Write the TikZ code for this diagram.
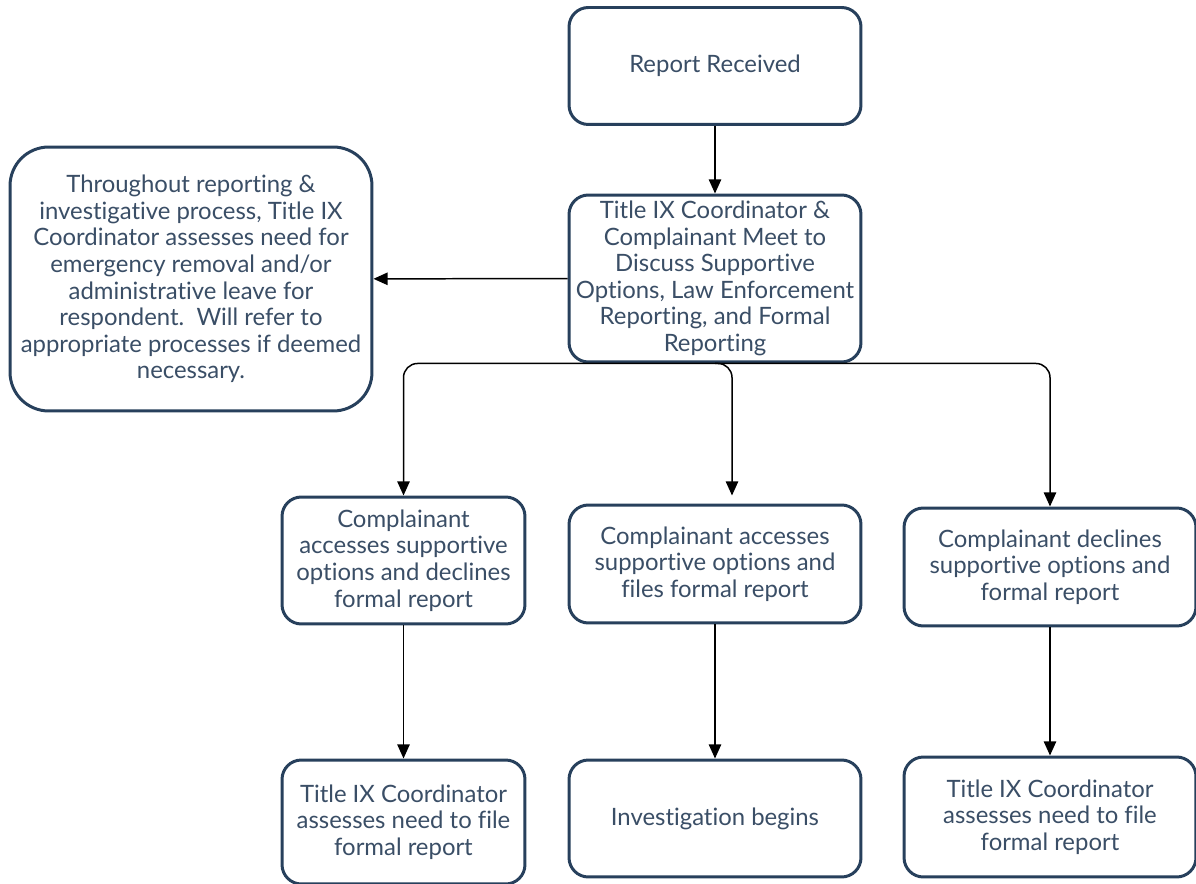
\documentclass[tikz,border=0pt]{standalone}
\usepackage{fontspec}
\setmainfont{Lato}[Ligatures=NoCommon]
\usetikzlibrary{arrows.meta,calc}
\definecolor{navy}{HTML}{27405C}
\definecolor{slate}{HTML}{3A4E66}
\begin{document}
\begin{tikzpicture}[x=0.02cm,y=-0.02cm,
  box/.style={draw=navy,line width=1.7pt,rounded corners=11pt,fill=white,text=slate,
    align=center,inner sep=2pt,font=\fontsize{13.6}{15.1}\selectfont},
  arr/.style={line width=0.85pt,-{Triangle[length=8pt,width=7pt]}}]
\useasboundingbox (0,0) rectangle (1196,884);
\node [box,minimum width=5.84cm,minimum height=2.34cm] (report) at (715,66) {Report Received};
\node [box,minimum width=5.84cm,minimum height=3.34cm] (meet) at (715,278.5)
  {Title IX Coordinator \&\\Complainant Meet to\\Discuss Supportive\\Options, Law Enforcement\\Reporting, and Formal\\Reporting};
\node [box,rounded corners=22pt,minimum width=7.24cm,minimum height=5.28cm] (leave) at (191,279)
  {Throughout reporting \&\\investigative process, Title IX\\Coordinator assesses need for\\emergency removal and/or\\administrative leave for\\respondent.\ \ Will refer to\\appropriate processes if deemed\\necessary.};
\node [box,minimum width=4.86cm,minimum height=2.54cm] (declines) at (403.5,560.5)
  {Complainant\\accesses supportive\\options and declines\\formal report};
\node [box,minimum width=5.84cm,minimum height=2.36cm] (files) at (715,564)
  {Complainant accesses\\supportive options and\\files formal report};
\node [box,minimum width=5.84cm,minimum height=2.36cm] (both) at (1050,567)
  {Complainant declines\\supportive options and\\formal report};
\node [box,minimum width=4.86cm,minimum height=2.48cm] (assessA) at (403.5,822)
  {Title IX Coordinator\\assesses need to file\\formal report};
\node [box,minimum width=5.84cm,minimum height=2.34cm] (begins) at (715,818.5) {Investigation begins};
\node [box,minimum width=5.84cm,minimum height=2.40cm] (assessB) at (1050,817)
  {Title IX Coordinator\\assesses need to file\\formal report};
\coordinate (split) at ($(files.north)+(17,-8)$);
\draw [arr] (report) -- (meet);
\draw [arr] (meet) -- (leave);
\draw [arr,rounded corners=8pt] (meet.south) -| (declines.north);
\draw [arr,rounded corners=8pt] (meet.south) -| (split);
\draw [arr,rounded corners=8pt] (meet.south) -| (both.north);
\draw [arr] (declines) -- (assessA);
\draw [arr] (files) -- (begins);
\draw [arr] (both) -- (assessB);
\end{tikzpicture}
\end{document}
